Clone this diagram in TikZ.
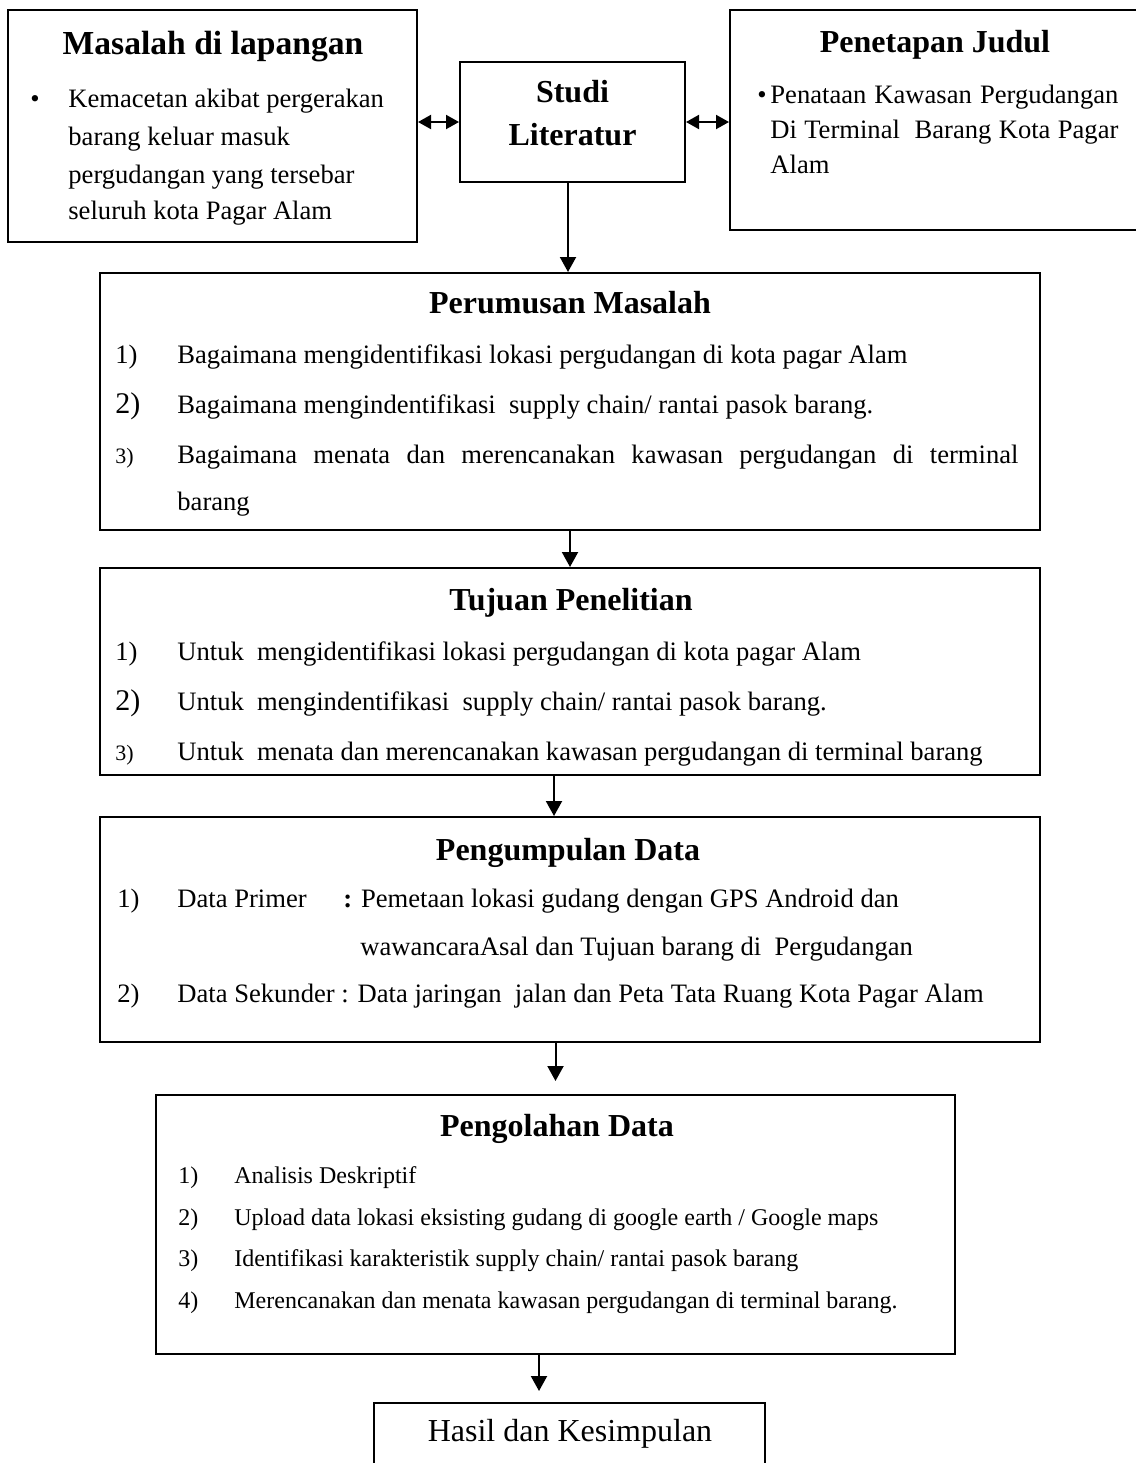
\documentclass[tikz,border=0pt]{standalone}
\usepackage{fontspec}
\setmainfont{Liberation Serif}
\usetikzlibrary{arrows.meta}

\begin{document}
\begin{tikzpicture}[x=0.5pt, y=-0.5pt]
    \tikzset{kotak/.style={draw=black, line width=1pt, inner sep=0pt},
             panah/.style={-{Triangle[length=7.5pt, width=8pt]}, line width=1pt},
             panahdua/.style={{Triangle[length=6.5pt, width=7pt]}-{Triangle[length=6.5pt, width=7pt]}, line width=1pt},
             judul/.style={anchor=base, inner sep=0pt, font=\fontsize{16}{19}\selectfont\bfseries},
             isi/.style={anchor=base west, inner sep=0pt, font=\fontsize{13.3}{16}\selectfont},
             isikecil/.style={anchor=base west, inner sep=0pt, font=\fontsize{12}{14}\selectfont}}
    \useasboundingbox (0,0) rectangle (1136,1463);
    % Kotak-kotak alur penelitian, lalu teks di dalamnya:
    \node[kotak, minimum width=204.5pt, minimum height=116pt] (masalah)   at (212.5,126)   {};
    \node[kotak, minimum width=112.5pt, minimum height=60pt]  (studi)     at (572.5,122)   {};
    \node[kotak, minimum width=205pt,   minimum height=110pt] (penetapan) at (935,120)     {};
    \node[kotak, minimum width=470pt,   minimum height=128.5pt] (rumusan) at (570,401.5)   {};
    \node[kotak, minimum width=470pt,   minimum height=103.5pt] (tujuan)  at (570,671.5)   {};
    \node[kotak, minimum width=470pt,   minimum height=112.5pt] (kumpul)  at (570,929.5)   {};
    \node[kotak, minimum width=399.5pt, minimum height=129.5pt] (olah)    at (555.5,1224.5) {};
    \node[kotak, minimum width=195.5pt, minimum height=38.5pt]  (hasil)   at (569.5,1441.5) {};

    \node[judul, font=\fontsize{16.8}{20}\selectfont\bfseries] (jmasalah) at (213,54) {Masalah di lapangan};
    \node[isi, anchor=base] (bmasalah) at (35,107) {\textbullet};
    \node[isi] (m1) at (68,107) {Kemacetan akibat pergerakan};
    \node[isi] (m2) at (68,145) {barang keluar masuk};
    \node[isi] (m3) at (68,183) {pergudangan yang tersebar};
    \node[isi] (m4) at (68,219) {seluruh kota Pagar Alam};

    \node[judul] (s1) at (572.5,102) {Studi};
    \node[judul] (s2) at (572.5,145) {Literatur};

    \node[judul] (jjudul) at (935,52) {Penetapan Judul};
    \node[isi, anchor=base] (bjudul) at (762,103) {\textbullet};
    \node[isi] (j1) at (770,103) {\makebox[174pt][s]{Penataan Kawasan Pergudangan}};
    \node[isi] (j2) at (770,138) {\makebox[174pt][s]{Di Terminal~ Barang Kota Pagar}};
    \node[isi] (j3) at (770,173) {Alam};

    \node[judul] (jrumusan) at (570,313) {Perumusan Masalah};
    \node[isi] (n11) at (115,363) {1)};
    \node[isi] (r1) at (177,363) {Bagaimana mengidentifikasi lokasi pergudangan di kota pagar Alam};
    \node[isi, font=\fontsize{15}{18}\selectfont] (n12) at (115,413) {2)};
    \node[isi] (r2) at (177,413) {Bagaimana mengindentifikasi~ supply chain/ rantai pasok barang.};
    \node[isi, font=\fontsize{11}{13}\selectfont] (n13) at (115,463) {3)};
    \node[isi] (r3) at (177,463) {\makebox[420.5pt][s]{Bagaimana menata dan merencanakan kawasan pergudangan di terminal}};
    \node[isi] (r4) at (177,510) {barang};

    \node[judul] (jtujuan) at (571,610) {Tujuan Penelitian};
    \node[isi] (n21) at (115,660) {1)};
    \node[isi] (t1) at (177,660) {Untuk~ mengidentifikasi lokasi pergudangan di kota pagar Alam};
    \node[isi, font=\fontsize{15}{18}\selectfont] (n22) at (115,710) {2)};
    \node[isi] (t2) at (177,710) {Untuk~ mengindentifikasi~ supply chain/ rantai pasok barang.};
    \node[isi, font=\fontsize{11}{13}\selectfont] (n23) at (115,760) {3)};
    \node[isi] (t3) at (177,760) {Untuk~ menata dan merencanakan kawasan pergudangan di terminal barang};

    \node[judul] (jkumpul) at (568,860) {Pengumpulan Data};
    \node[isi] (n31) at (117,907) {1)};
    \node[isi] (k1) at (177,907) {Data Primer};
    \node[isi] (k2) at (343,907) {\textbf{:} Pemetaan lokasi gudang dengan GPS Android dan};
    \node[isi] (k3) at (360,955) {wawancaraAsal dan Tujuan barang di~ Pergudangan};
    \node[isi] (n32) at (117,1002) {2)};
    \node[isi] (k4) at (177,1002) {Data Sekunder : Data jaringan~ jalan dan Peta Tata Ruang Kota Pagar Alam};

    \node[judul] (jolah) at (557,1136) {Pengolahan Data};
    \node[isikecil] (n41) at (178,1183) {1)};
    \node[isikecil] (o1) at (234,1183) {Analisis Deskriptif};
    \node[isikecil] (n42) at (178,1225) {2)};
    \node[isikecil] (o2) at (234,1225) {Upload data lokasi eksisting gudang di google earth / Google maps};
    \node[isikecil] (n43) at (178,1266) {3)};
    \node[isikecil] (o3) at (234,1266) {Identifikasi karakteristik supply chain/ rantai pasok barang};
    \node[isikecil] (n44) at (178,1308) {4)};
    \node[isikecil] (o4) at (234,1308) {Merencanakan dan menata kawasan pergudangan di terminal barang.};

    \node[judul, font=\fontsize{16}{19}\selectfont] (thasil) at (570,1441) {Hasil dan Kesimpulan};

    \draw[panahdua] (masalah.east |- studi.west) -- (studi.west);
    \draw[panahdua] (studi.east) -- (penetapan.west |- studi.east);
    \draw[panah] ([xshift=-2.25pt]studi.south) -- ([xshift=-2.25pt]studi.south |- rumusan.north);
    \draw[panah] (rumusan.south) -- (tujuan.north);
    \draw[panah] ([xshift=-8pt]tujuan.south) -- ([xshift=-8pt]tujuan.south |- kumpul.north);
    \draw[panah, shorten >=6.5pt] (olah.north |- kumpul.south) -- (olah.north);
    \draw[panah, shorten >=5.5pt] ([xshift=-15.25pt]hasil.north |- olah.south) -- ([xshift=-15.25pt]hasil.north);
\end{tikzpicture}
\end{document}
